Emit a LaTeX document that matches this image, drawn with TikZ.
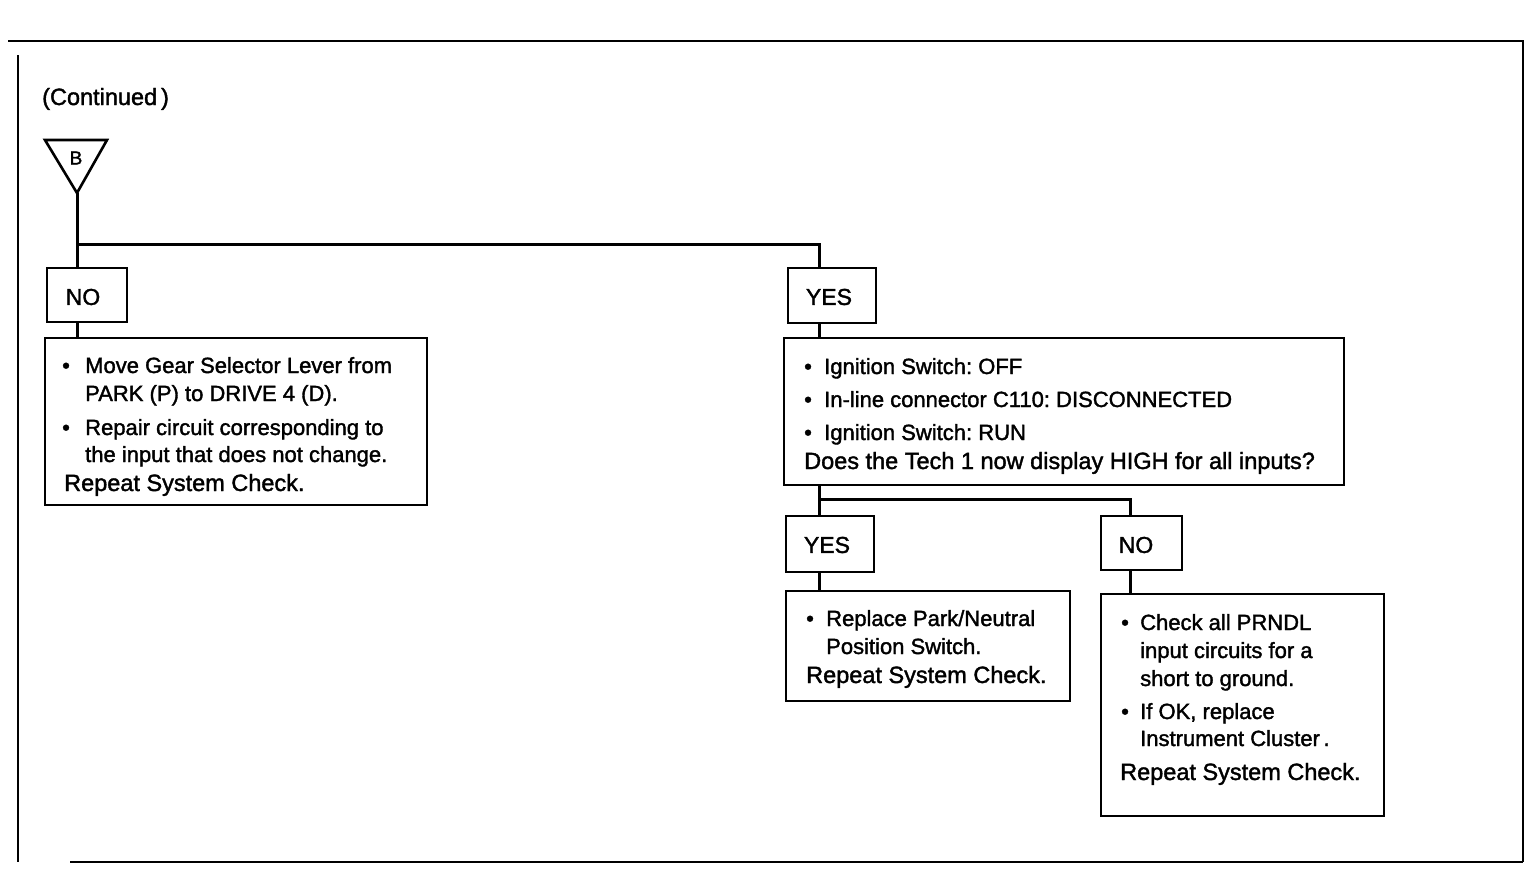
\documentclass[tikz,border=0pt]{standalone}
\usepackage{fontspec}
\setmainfont{Liberation Sans}[FakeBold=1.6]
\newfontfamily\heavy{Liberation Sans}[FakeBold=1.6]
\frenchspacing
\begin{document}
\begin{tikzpicture}[x=1pt,y=-1pt,
  box/.style={draw, line width=1.8pt, inner sep=0pt, anchor=north west},
  conn/.style={line width=3pt},
  framel/.style={line width=2.4pt},
  txt/.style={anchor=base west, inner sep=0pt, font=\heavy\fontsize{22}{25}\selectfont},
  txtb/.style={anchor=base west, inner sep=0pt, font=\heavy\fontsize{23.5}{27}\selectfont},
  lbl/.style={inner sep=0pt, font=\heavy\fontsize{23}{26}\selectfont}]
\useasboundingbox (0,0) rectangle (1536,870);
% frame
\draw[framel] (8,41) -- (1523,41) -- (1523,862);
\draw[framel] (70,862) -- (1523,862);
\draw[framel] (18,55) -- (18,862);
% title
\node[txtb] (cont) at (42,105) {(Continued\,)};
% connector triangle
\coordinate (tl) at (45,140);
\coordinate (tr) at (107,140);
\coordinate (apex) at (77,193);
\draw[line width=2.6pt, line join=miter] (tl) -- (tr) -- (apex) -- cycle;
\node[lbl, font=\heavy\fontsize{19}{22}\selectfont] (bl) at (76,158) {B};
% boxes
\node[box, minimum width=80, minimum height=54] (no1) at (46,267) {};
\node[lbl] at (83,297) {NO};
\node[box, minimum width=88, minimum height=55] (yes1) at (787,267) {};
\node[lbl] at (829,297) {YES};
\node[box, minimum width=382, minimum height=167] (act1) at (44,337) {};
\node[box, minimum width=560, minimum height=147] (q1) at (783,337) {};
\node[box, minimum width=88, minimum height=56] (yes2) at (785,515) {};
\node[lbl] at (827,545) {YES};
\node[box, minimum width=81, minimum height=54] (no2) at (1100,515) {};
\node[lbl] at (1136,545) {NO};
\node[box, minimum width=284, minimum height=110] (act2) at (785,590) {};
\node[box, minimum width=283, minimum height=222] (act3) at (1100,593) {};
% connectors
\coordinate (j1) at (77,244);
\coordinate (j2) at (819,499);
\draw[conn] (apex) -- (apex |- no1.north);
\draw[conn] (j1) -| (819,0 |- yes1.north);
\draw[conn] (77,0 |- no1.south) -- (77,0 |- act1.north);
\draw[conn] (819,0 |- yes1.south) -- (819,0 |- q1.north);
\draw[conn] (819,0 |- q1.south) -- (819,0 |- yes2.north);
\draw[conn] (j2) -| (1130,0 |- no2.north);
\draw[conn] (819,0 |- yes2.south) -- (819,0 |- act2.north);
\draw[conn] (1130,0 |- no2.south) -- (1130,0 |- act3.north);
% texts box 1
\node[txt] at (62,373) {•};
\node[txt] at (85,373) {Move Gear Selector Lever from};
\node[txt] at (85,401) {PARK (P) to DRIVE 4 (D).};
\node[txt] at (62,435) {•};
\node[txt] at (85,435) {Repair circuit corresponding to};
\node[txt] at (85,462) {the input that does not change.};
\node[txtb] at (64,491) {Repeat System Check.};
% texts question box
\node[txt] at (804,374) {•};
\node[txt] at (824,374) {Ignition Switch: OFF};
\node[txt] at (804,407) {•};
\node[txt] at (824,407) {In-line connector C110: DISCONNECTED};
\node[txt] at (804,440) {•};
\node[txt] at (824,440) {Ignition Switch: RUN};
\node[txtb] at (804,469) {Does the Tech 1 now display HIGH for all inputs?};
% texts box 2
\node[txt] at (806,626) {•};
\node[txt] at (826,626) {Replace Park/Neutral};
\node[txt] at (826,654) {Position Switch.};
\node[txtb] at (806,683) {Repeat System Check.};
% texts box 3
\node[txt] at (1121,630) {•};
\node[txt] at (1140,630) {Check all PRNDL};
\node[txt] at (1140,658) {input circuits for a};
\node[txt] at (1140,686) {short to ground.};
\node[txt] at (1121,719) {•};
\node[txt] at (1140,719) {If OK, replace};
\node[txt] at (1140,746) {Instrument Cluster\,.};
\node[txtb] at (1120,780) {Repeat System Check.};
\end{tikzpicture}
\end{document}
